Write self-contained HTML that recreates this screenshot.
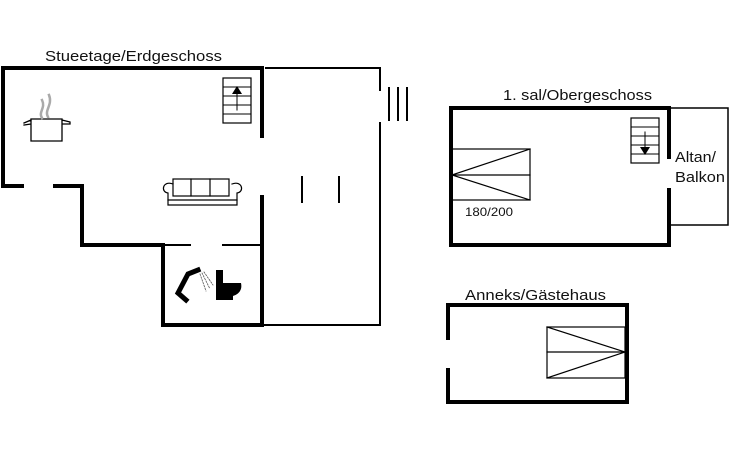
<!DOCTYPE html>
<html><head><meta charset="utf-8"><style>
html,body{margin:0;padding:0;background:#fff;width:730px;height:450px;overflow:hidden}
svg{display:block}
text{font-family:"Liberation Sans",sans-serif;fill:#111}
</style></head><body>
<svg width="730" height="450" viewBox="0 0 730 450" xmlns="http://www.w3.org/2000/svg">
<g stroke="#000" fill="none" stroke-linecap="square">
<polyline points="3,186 3,68 262,68 262,136" stroke-width="4"/>
<line x1="3" y1="186" x2="22" y2="186" stroke-width="4"/>
<polyline points="55,186 82,186 82,245 163,245" stroke-width="4"/>
<polyline points="262,197 262,325 163,325 163,245" stroke-width="4"/>
<line x1="163" y1="245" x2="190" y2="245" stroke-width="2"/>
<line x1="223" y1="245" x2="262" y2="245" stroke-width="2"/>
<polyline points="266,68 380,68 380,90" stroke-width="2"/>
<polyline points="380,123 380,325 262,325" stroke-width="2"/>
<line x1="389" y1="88" x2="389" y2="120" stroke-width="2"/>
<line x1="398" y1="88" x2="398" y2="120" stroke-width="2"/>
<line x1="407" y1="88" x2="407" y2="120" stroke-width="2"/>
<line x1="302" y1="177" x2="302" y2="202" stroke-width="2"/>
<line x1="339" y1="177" x2="339" y2="202" stroke-width="2"/>
<rect x="223" y="78" width="28" height="45" stroke-width="1.2"/>
<g stroke-width="1"><line x1="223" y1="87" x2="251" y2="87"/><line x1="223" y1="96" x2="251" y2="96"/><line x1="223" y1="105" x2="251" y2="105"/><line x1="223" y1="114" x2="251" y2="114"/><line x1="237" y1="92" x2="237" y2="110"/></g>
<polygon points="237,86 232,94 242,94" fill="#000" stroke="none"/>
<path d="M31,119 L31,141 L62,141 L62,119 Z M24,123 L31,120 M62,120 L70,122 L70,124 L62,124 M31,124 L24,125" stroke-width="1.3"/>
<path d="M42,118 C38,112 46,108 42,100 M48,117 C44,110 53,105 49,95" stroke="#aaa" stroke-width="2.5"/>
<g stroke-width="1.2">
<rect x="173" y="179" width="56" height="17"/>
<line x1="191" y1="179" x2="191" y2="196"/><line x1="210" y1="179" x2="210" y2="196"/>
<path d="M173,184 C163,180 160,192 168,193 L168,205 L237,205 L237,193 C245,192 242,180 232,184"/>
<line x1="168" y1="200" x2="237" y2="200"/>
</g>
<path d="M198,270 L188,274 L178,293 L186,300" stroke-width="5"/>
<g stroke-width="0.8" stroke-dasharray="1.5,1.5" stroke="#555"><line x1="200" y1="274" x2="206" y2="291"/><line x1="202" y1="273" x2="210" y2="289"/><line x1="204" y1="272" x2="213" y2="285"/></g>
<path d="M216,270 L223,270 L223,283 L241,283 C243,292 236,295 233,296 L233,300 L216,300 Z" fill="#000" stroke="none"/>
<polyline points="669,157 669,108 451,108 451,245 669,245 669,190" stroke-width="4"/>
<polyline points="669,108 728,108 728,225 669,225" stroke-width="1.5"/>
<g stroke-width="1.2">
<rect x="452" y="149" width="78" height="51"/>
<line x1="452" y1="175" x2="530" y2="175"/>
<line x1="452" y1="175" x2="530" y2="149"/><line x1="452" y1="175" x2="530" y2="200"/>
</g>
<rect x="631" y="118" width="28" height="45" stroke-width="1.2"/>
<g stroke-width="1"><line x1="631" y1="127" x2="659" y2="127"/><line x1="631" y1="136" x2="659" y2="136"/><line x1="631" y1="145" x2="659" y2="145"/><line x1="631" y1="154" x2="659" y2="154"/><line x1="645" y1="132" x2="645" y2="148"/></g>
<polygon points="645,155 640,147 650,147" fill="#000" stroke="none"/>
<polyline points="448,338 448,305 627,305 627,402 448,402 448,370" stroke-width="4"/>
<g stroke-width="1.2">
<rect x="547" y="327" width="78" height="51"/>
<line x1="547" y1="352" x2="625" y2="352"/>
<line x1="547" y1="327" x2="625" y2="352"/><line x1="547" y1="378" x2="625" y2="352"/>
</g>
</g>
<text x="45" y="61" font-size="15" textLength="177" lengthAdjust="spacingAndGlyphs">Stueetage/Erdgeschoss</text>
<text x="503" y="100" font-size="15" textLength="149" lengthAdjust="spacingAndGlyphs">1. sal/Obergeschoss</text>
<text x="465" y="216" font-size="12" textLength="48" lengthAdjust="spacingAndGlyphs">180/200</text>
<text x="675" y="162" font-size="15" textLength="41" lengthAdjust="spacingAndGlyphs">Altan/</text>
<text x="675" y="182" font-size="15" textLength="50" lengthAdjust="spacingAndGlyphs">Balkon</text>
<text x="465" y="300" font-size="15" textLength="141" lengthAdjust="spacingAndGlyphs">Anneks/Gästehaus</text>
</svg>
</body></html>
